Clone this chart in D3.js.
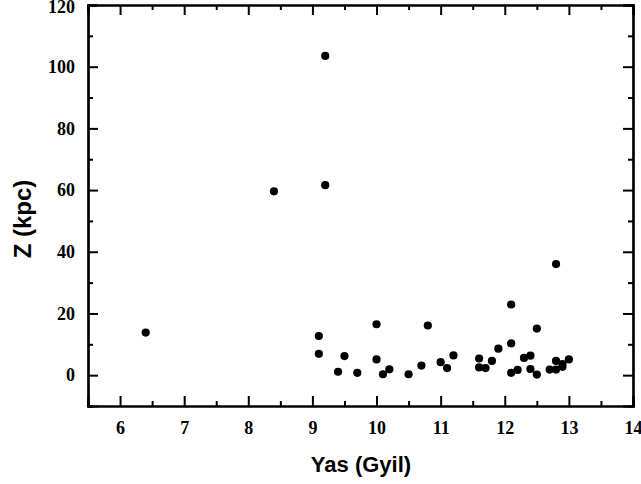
<!DOCTYPE html>
<html>
<head>
<meta charset="utf-8">
<script src="https://cdn.jsdelivr.net/npm/d3@7"></script>
<style>
  html, body { margin: 0; padding: 0; background: #fff; }
  svg { display: block; }
</style>
</head>
<body>
<svg id="chart" width="641" height="484"></svg>
<script>
// Data
const ages = [6.4, 8.4, 9.2, 9.2, 9.1, 9.1, 9.4, 9.5, 9.7, 10.0, 10.0, 10.1, 10.2, 10.5, 10.7, 10.8, 11.0, 11.1, 11.2, 11.6, 11.6, 11.7, 11.8, 11.9, 12.1, 12.1, 12.1, 12.2, 12.3, 12.4, 12.4, 12.5, 12.5, 12.7, 12.8, 12.8, 12.8, 12.9, 12.9, 13.0];
const zValues = [13.8, 59.6, 103.5, 61.6, 12.7, 6.9, 1.1, 6.2, 0.75, 16.5, 5.1, 0.3, 1.9, 0.3, 3.1, 16.1, 4.2, 2.3, 6.4, 5.4, 2.5, 2.3, 4.6, 8.6, 22.9, 10.3, 0.75, 1.7, 5.6, 6.3, 2.0, 15.1, 0.2, 1.8, 36.0, 1.8, 4.6, 2.7, 3.6, 5.1];
const xTicks = [6, 7, 8, 9, 10, 11, 12, 13, 14];
const xMinorTicks = [5.5, 6.5, 7.5, 8.5, 9.5, 10.5, 11.5, 12.5, 13.5];
const yTicks = [0, 20, 40, 60, 80, 100, 120];
const yMinorTicks = [-10, 10, 30, 50, 70, 90, 110];
const xTitle = "Yas (Gyil)";
const yTitle = "Z (kpc)";

(function () {
const svg = d3.select("#chart");
const pL = 88, pR = 633, pT = 5, pB = 406;

const x = d3.scaleLinear().domain([5.5, 14]).range([pL, pR]);
const y = d3.scaleLinear().domain([-10, 120]).range([pB, pT]);

const tickFont = "'Liberation Serif', 'Times New Roman', serif";
const titleFont = "'Liberation Sans', Arial, sans-serif";

// Bottom axis (ticks inward)
const gB = svg.append("g").attr("transform", `translate(0,${pB})`);
gB.call(d3.axisBottom(x).tickValues(xTicks).tickSize(-10).tickPadding(15).tickFormat(d3.format("d")));
gB.append("g").call(d3.axisBottom(x).tickValues(xMinorTicks).tickSize(-5).tickFormat(""));
// Top axis
const gT = svg.append("g").attr("transform", `translate(0,${pT})`);
gT.call(d3.axisTop(x).tickValues(xTicks).tickSize(-10).tickFormat(""));
gT.append("g").call(d3.axisTop(x).tickValues(xMinorTicks).tickSize(-5).tickFormat(""));
// Left axis
const gL = svg.append("g").attr("transform", `translate(${pL},0)`);
gL.call(d3.axisLeft(y).tickValues(yTicks).tickSize(-10).tickPadding(13).tickFormat(d3.format("d")));
gL.append("g").call(d3.axisLeft(y).tickValues(yMinorTicks).tickSize(-5).tickFormat(""));
// Right axis
const gR = svg.append("g").attr("transform", `translate(${pR},0)`);
gR.call(d3.axisRight(y).tickValues(yTicks).tickSize(-10).tickFormat(""));
gR.append("g").call(d3.axisRight(y).tickValues(yMinorTicks).tickSize(-5).tickFormat(""));

svg.selectAll(".domain").attr("stroke", "#000").attr("stroke-width", 2.2);
svg.selectAll(".tick line").attr("stroke", "#000").attr("stroke-width", 2);
svg.selectAll(".tick text")
  .attr("font-family", tickFont)
  .attr("font-weight", "bold")
  .attr("font-size", 18)
  .attr("fill", "#000");
// keep the top label inside the picture
gL.selectAll(".tick text").filter(d => d === 120).attr("dy", "0.32em").attr("y", 2);

// Points
svg.append("g").selectAll("circle")
  .data(ages.map((a, i) => [a, zValues[i]]))
  .join("circle")
  .attr("cx", d => x(d[0]))
  .attr("cy", d => y(d[1]))
  .attr("r", 4.1)
  .attr("fill", "#000");

// Titles
svg.append("text")
  .attr("x", 361).attr("y", 472)
  .attr("text-anchor", "middle")
  .attr("font-family", titleFont)
  .attr("font-weight", "bold")
  .attr("font-size", 22)
  .text(xTitle);

svg.append("text")
  .attr("transform", "translate(31,219) rotate(-90)")
  .attr("text-anchor", "middle")
  .attr("font-family", titleFont)
  .attr("font-weight", "bold")
  .attr("font-size", 24)
  .text(yTitle);
})();
</script>
</body>
</html>
